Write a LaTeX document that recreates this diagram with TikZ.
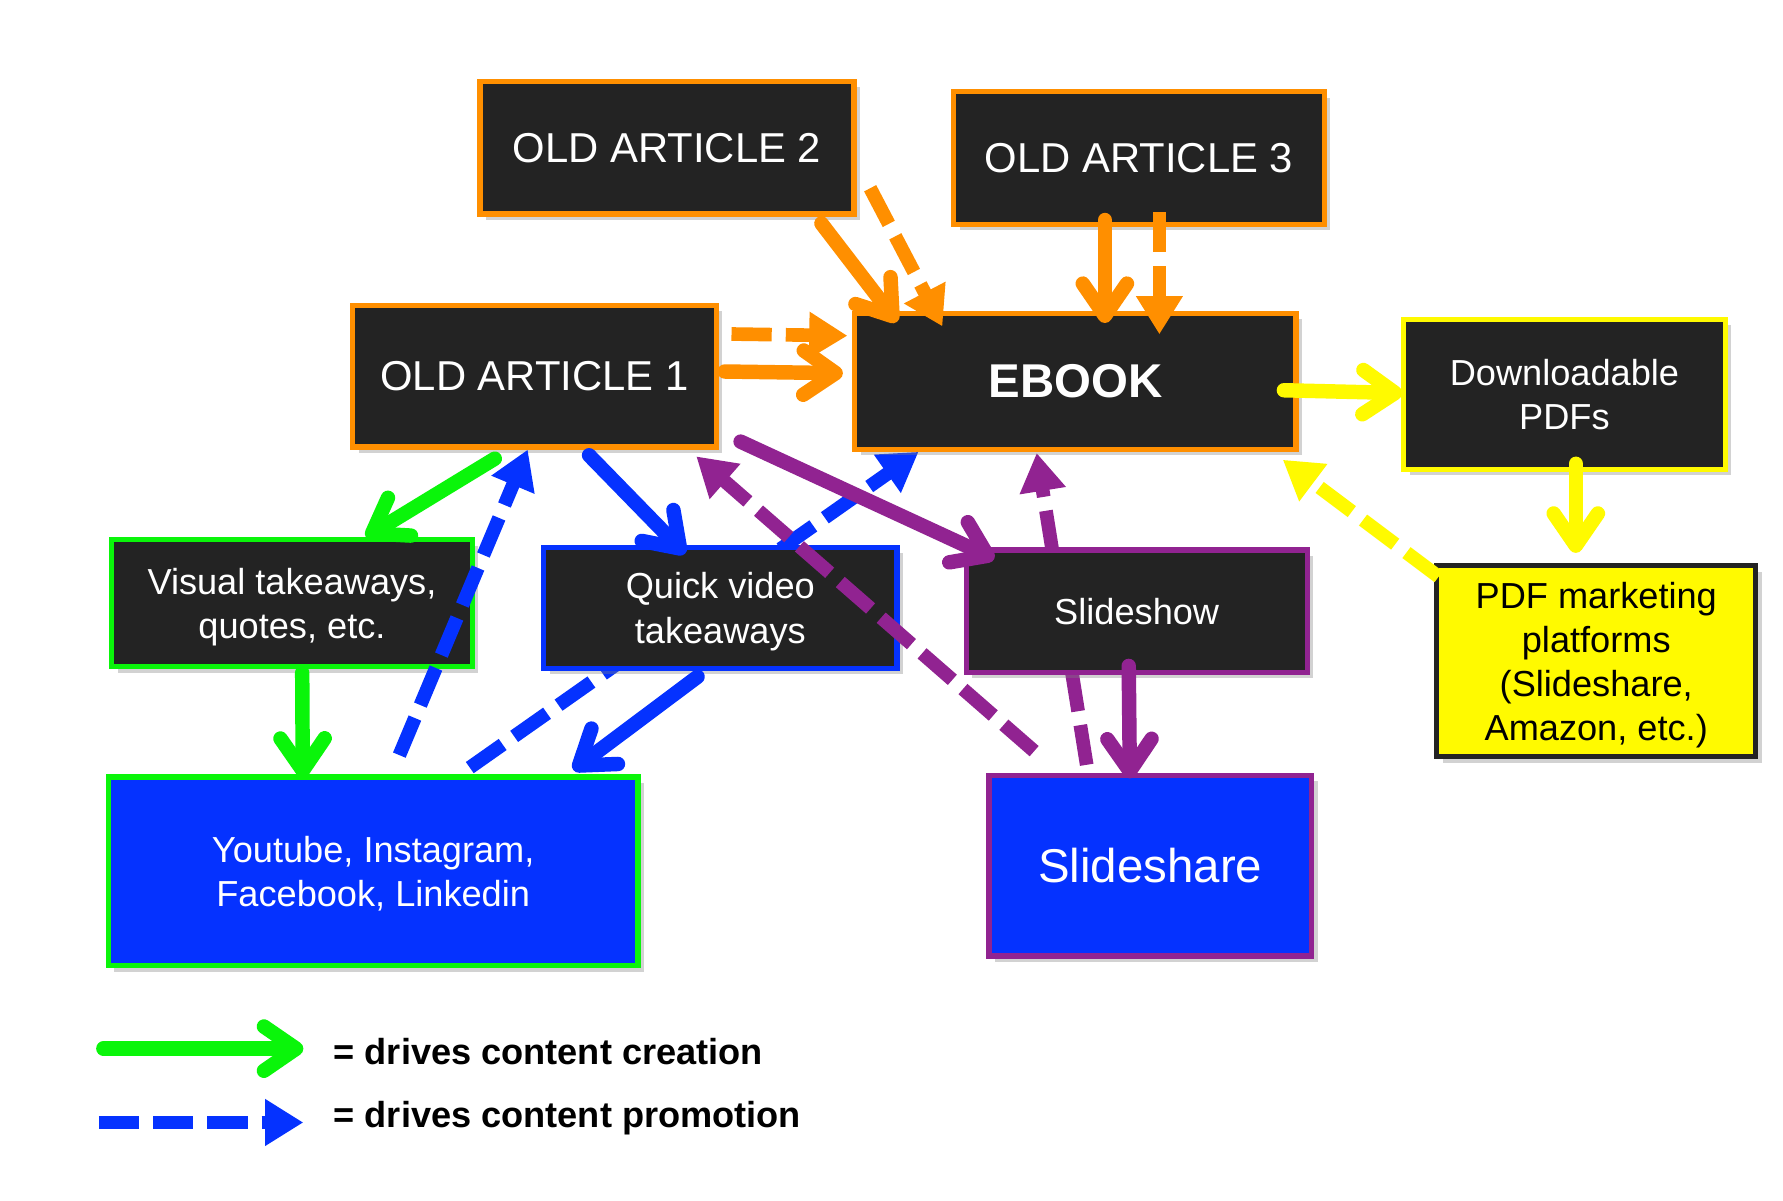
\documentclass[tikz,border=0pt]{standalone}
\usepackage{fontspec}
\setmainfont{Liberation Sans}
\usetikzlibrary{arrows.meta,calc,shadows,backgrounds}

\definecolor{darkfill}{RGB}{35,35,35}
\definecolor{orng}{RGB}{255,143,0}
\definecolor{grn}{RGB}{10,245,10}
\definecolor{blu}{RGB}{5,50,255}
\definecolor{purp}{RGB}{145,35,145}
\definecolor{ylw}{RGB}{255,250,0}

\tikzstyle{contentbox} = [draw, fill=darkfill, line width=1.3pt, text=white,
    rectangle, align=center, inner sep=0pt, text depth=0pt,
    font=\fontsize{9}{11}\selectfont,
    drop shadow={opacity=0.35, shadow xshift=1.5pt, shadow yshift=-1.5pt}]
\tikzstyle{articlebox} = [contentbox, draw=orng, font=\fontsize{10.4}{12}\selectfont]
\tikzstyle{legtext} = [anchor=west, inner sep=0pt, font=\fontsize{9}{11}\selectfont\bfseries]
\tikzstyle{solidarrow} = [line width=3.6pt, line cap=round,
    -{Straight Barb[length=8pt,width=11pt,round]}]
\tikzstyle{dasharrow} = [line width=3.4pt, dash pattern=on 10pt off 3.5pt,
    -{Triangle[length=9.5pt,width=11pt]}]

\begin{document}
\begin{tikzpicture}[x=0.00994cm, y=-0.00994cm]
    \useasboundingbox (0,0) rectangle (1569.4,1056.3);
%------------ old articles and ebook ---------------------
    \node [articlebox, minimum width=3.27cm, minimum height=1.16cm] (oa2) at (587,130) {OLD ARTICLE 2};
    \node [articlebox, minimum width=3.24cm, minimum height=1.16cm] (oa3) at (1002.5,139) {OLD ARTICLE 3};
    \node [articlebox, minimum width=3.18cm, minimum height=1.24cm] (oa1) at (470.5,331) {OLD ARTICLE 1};
    \node [contentbox, draw=orng, minimum width=3.86cm, minimum height=1.19cm,
        font=\fontsize{11.8}{14}\selectfont\bfseries] (ebook) at (946.5,335.5) {EBOOK};
%------------ pdf boxes ---------------------
    \node [contentbox, draw=ylw, minimum width=2.81cm, minimum height=1.31cm] (pdfs) at (1377,347) {Downloadable\\PDFs};
    \node [contentbox, draw=darkfill, fill=ylw, text=black, minimum width=2.79cm, minimum height=1.67cm] (mkt) at (1405,582)
        {PDF marketing\\platforms\\(Slideshare,\\Amazon, etc.)};
%------------ takeaways and slideshow ---------------------
    \node [contentbox, draw=grn, minimum width=3.15cm, minimum height=1.11cm] (visual) at (257,531) {Visual takeaways,\\quotes, etc.};
    \node [contentbox, draw=blu, minimum width=3.09cm, minimum height=1.06cm] (quick) at (634,535) {Quick video\\takeaways};
    \node [contentbox, draw=purp, minimum width=2.98cm, minimum height=1.07cm] (slideshow) at (1000.5,538) {Slideshow};
%------------ platforms ---------------------
    \node [contentbox, draw=grn, fill=blu, minimum width=4.63cm, minimum height=1.65cm] (social) at (328.5,767)
        {Youtube, Instagram,\\Facebook, Linkedin};
    \node [contentbox, draw=purp, fill=blu, minimum width=2.82cm, minimum height=1.58cm,
        font=\fontsize{11.8}{14}\selectfont] (slideshare) at (1012.5,762) {Slideshare};

    \begin{scope}[on background layer]
        \fill[white] (0,0) rectangle (1569.4,1056.3);
        \draw[dasharrow, blu] ($(social.north)+(85,-6)$) -- ($(ebook.south)+(-138,0)$);
        \draw[dasharrow, purp] ($(slideshare.north)+(-56,-7)$) -- ($(ebook.south)+(-34,1)$);
    \end{scope}

%------------ orange arrows ---------------------
    \draw[solidarrow, orng] ($(oa2.south)+(136,6)$) -- ($(ebook.north)+(-157,10)$);
    \draw[dasharrow, orng] ($(oa2.south east)+(12,-25)$) -- ($(ebook.north)+(-117,14)$);
    \draw[solidarrow, orng] ($(oa3.south)+(-30,-6)$) -- ($(ebook.north)+(26,11)$);
    \draw[dasharrow, orng] ($(oa3.south)+(18,-13)$) -- ($(ebook.north)+(74,21)$);
    \draw[dasharrow, orng] ($(oa1.east)+(11,-37)$) -- ($(ebook.west)+(-4,-40)$);
    \draw[solidarrow, orng] ($(oa1.east)+(5,-4)$) -- ($(ebook.west)+(-8,-7)$);
%------------ green and blue arrows ---------------------
    \draw[solidarrow, grn] ($(oa1.south)+(-35,8)$) -- ($(visual.north)+(65,0)$);
    \draw[solidarrow, grn] ($(visual.south)+(9,3)$) -- ($(social.north)+(-62,3)$);
    \draw[solidarrow, blu] ($(oa1.south)+(48,5)$) -- ($(quick.north)+(-31,8)$);
    \draw[dasharrow, blu] ($(social.north)+(23,-17)$) -- ($(oa1.south)+(-6,0)$);
    \draw[solidarrow, blu] ($(quick.south)+(-20,5)$) -- ($(social.north)+(176,-4)$);
%------------ purple arrows ---------------------
    \draw[solidarrow, purp] ($(oa1.south east)+(19,-7)$) -- ($(slideshow.north west)+(27,10)$);
    \draw[dasharrow, purp] ($(slideshare.north west)+(42,-19)$) -- ($(oa1.south east)+(-20,6)$);
    \draw[solidarrow, purp] ($(slideshow.south)+(-7,-8)$) -- ($(slideshare.north)+(-18,5)$);
%------------ yellow arrows ---------------------
    \draw[solidarrow, ylw] ($(ebook.east)+(-13,8)$) -- ($(pdfs.west)+(1,-1)$);
    \draw[solidarrow, ylw] ($(pdfs.south)+(10,-7)$) -- ($(mkt.north)+(-18,-9)$);
    \draw[dasharrow, ylw] ($(mkt.north west)+(4,12)$) -- ($(ebook.south east)+(-14,7)$);

%------------ legend ---------------------
    \node [legtext] (legcre) at (293,926) {= drives content creation};
    \node [legtext] (legpro) at (293,984) {= drives content promotion};
    \coordinate (crestart) at (91,923);
    \coordinate (prostart) at (87,988);
    \draw[solidarrow, grn] (crestart) -- ($(legcre.west)+(-26,-3)$);
    \draw[dasharrow, blu] (prostart) -- ($(legpro.west)+(-26,4)$);
\end{tikzpicture}
\end{document}
